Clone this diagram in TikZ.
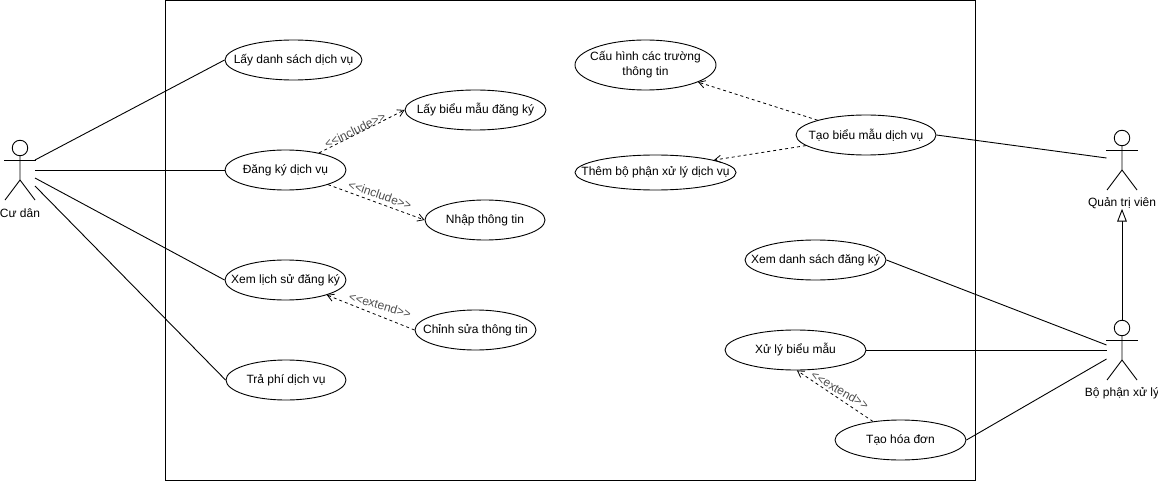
\documentclass[tikz,border=0pt]{standalone}
\usepackage{fontspec}
\setmainfont{Liberation Sans}
\usetikzlibrary{shapes.geometric,arrows.meta,positioning}
\definecolor{ink}{HTML}{000000}
\definecolor{stereo}{HTML}{4D4D4D}
\tikzset{
  usecase/.style={ellipse,draw=ink,fill=white,line width=0.9pt,inner xsep=-30pt,inner ysep=-8pt,align=center,font=\fontsize{12}{15}\selectfont},
  assoc/.style={ink,line width=0.9pt},
  dep/.style={ink,line width=0.8pt,dash pattern=on 3pt off 3pt,-{Straight Barb[length=2.2mm,width=2.6mm]}},
  gen/.style={ink,line width=0.9pt,-{Triangle[open,length=4.5mm,width=3.4mm,fill=white]}},
  stereolbl/.style={stereo,inner sep=0pt,font=\fontsize{12}{14}\selectfont},
  actorlbl/.style={font=\fontsize{12}{14}\selectfont,inner sep=0pt},
}
\begin{document}
\begin{tikzpicture}[x=1pt,y=-1pt]
  \newcommand{\actorfig}[4]{%
    \begin{scope}[shift={(#2,#3)}]
      \node[circle,draw=ink,line width=0.9pt,minimum size=15.5pt,inner sep=0pt] (#1) at (0,8) {};
      \draw[assoc] (#1.south) -- (0,40) -- (-15,60);
      \draw[assoc] (0,40) -- (15,60);
      \draw[assoc] (-16,20) -- (16,20);
      \node[actorlbl] (#1lbl) at (0,73) {#4};
    \end{scope}}
  \useasboundingbox (0,0) rectangle (1158,481);
  \draw[ink,line width=0.9pt] (165.5,0.5) rectangle (975.5,480);
  % actors
  \actorfig{cudan}{20}{140}{Cư dân}
  \actorfig{quantri}{1122}{130}{Quản trị viên}
  \actorfig{bophan}{1122}{320}{Bộ phận xử lý}
  \coordinate (cudanA) at (35,160);
  \coordinate (cudanB) at (35,170);
  \coordinate (cudanC) at (35,178);
  \coordinate (cudanD) at (35,186);
  \coordinate (quantriA) at (1106.5,158);
  \coordinate (bophanA) at (1106.5,345);
  \coordinate (bophanB) at (1106.5,350);
  \coordinate (bophanC) at (1106.5,359);
  % use cases, left group
  \node[usecase,minimum width=137pt,minimum height=40pt] (laydanhsach) at (293.5,60) {Lấy danh sách dịch vụ};
  \node[usecase,minimum width=121pt,minimum height=40pt] (dangky) at (285.5,170) {Đăng ký dịch vụ};
  \node[usecase,minimum width=141pt,minimum height=40pt] (laybieumau) at (475.5,110) {Lấy biểu mẫu đăng ký};
  \node[usecase,minimum width=120pt,minimum height=40pt] (nhapthongtin) at (485,220) {Nhập thông tin};
  \node[usecase,minimum width=121pt,minimum height=40pt] (lichsu) at (285.5,280) {Xem lịch sử đăng ký};
  \node[usecase,minimum width=121pt,minimum height=40pt] (chinhsua) at (475.5,330) {Chỉnh sửa thông tin};
  \node[usecase,minimum width=120pt,minimum height=40pt] (traphi) at (286,380) {Trả phí dịch vụ};
  % use cases, right group
  \node[usecase,minimum width=141pt,minimum height=50pt] (cauhinh) at (645.5,65) {Cấu hình các trường\\thông tin};
  \node[usecase,minimum width=161pt,minimum height=35pt] (thembophan) at (655.5,172.5) {Thêm bộ phận xử lý dịch vụ};
  \node[usecase,minimum width=140pt,minimum height=40pt] (taobieumau) at (866,135) {Tạo biểu mẫu dịch vụ};
  \node[usecase,minimum width=141pt,minimum height=40pt] (xemdanhsach) at (815.5,260) {Xem danh sách đăng ký};
  \node[usecase,minimum width=141pt,minimum height=40pt] (xuly) at (795.5,350) {Xử lý biểu mẫu};
  \node[usecase,minimum width=131pt,minimum height=40pt] (hoadon) at (900.5,440) {Tạo hóa đơn};
  % associations
  \draw[assoc] (cudanA) -- (laydanhsach.west);
  \draw[assoc] (cudanB) -- (dangky.west);
  \draw[assoc] (cudanC) -- (lichsu.west);
  \draw[assoc] (cudanD) -- (traphi.west);
  \draw[assoc] (taobieumau.east) -- (quantriA);
  \draw[assoc] (xemdanhsach.east) -- (bophanA);
  \draw[assoc] (xuly.east) -- (bophanB);
  \draw[assoc] (hoadon.east) -- (bophanC);
  \draw[gen] (bophan.north) -- (quantrilbl.south);
  % dependencies
  \draw[dep] (dangky.27) -- (laybieumau.west);
  \draw[dep] (dangky.-19) -- (nhapthongtin.west);
  \draw[dep] (chinhsua.west) -- (lichsu.-20);
  \draw[dep] (taobieumau.163) -- (cauhinh.-18);
  \draw[dep] (taobieumau.190) -- (thembophan.12);
  \draw[dep] (hoadon.146) -- (xuly.-86);
  \node[stereolbl,rotate=26] (inclA) at (355,130) {<{}<include>{}>};
  \node[stereolbl,rotate=-19] (inclB) at (380,195) {<{}<include>{}>};
  \node[stereolbl,rotate=-16] (extA) at (380,305) {<{}<extend>{}>};
  \node[stereolbl,rotate=-30] (extB) at (840,390) {<{}<extend>{}>};
\end{tikzpicture}
\end{document}
